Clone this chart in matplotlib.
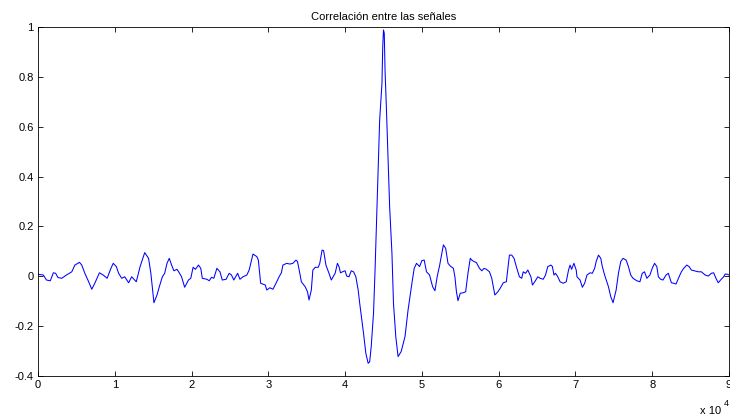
import numpy as np
import matplotlib
matplotlib.use("Agg")
import matplotlib.pyplot as plt

# lag in units of 1e4 samples, normalized correlation value
lag_e4 = [
    0.00, 0.07, 0.11, 0.16, 0.20, 0.23, 0.26, 0.31, 0.37, 0.44, 0.48, 0.54, 0.57, 0.61,
    0.66, 0.70, 0.74, 0.80, 0.85, 0.90, 0.95, 0.98, 1.02, 1.05, 1.09, 1.13, 1.18, 1.22,
    1.28, 1.33, 1.39, 1.44, 1.47, 1.51, 1.55, 1.58, 1.62, 1.65, 1.68, 1.71, 1.74, 1.77,
    1.81, 1.84, 1.87, 1.91, 1.96, 1.99, 2.02, 2.05, 2.09, 2.12, 2.14, 2.20, 2.23, 2.26,
    2.29, 2.33, 2.37, 2.40, 2.45, 2.49, 2.52, 2.55, 2.60, 2.63, 2.67, 2.72, 2.75, 2.80,
    2.85, 2.87, 2.90, 2.96, 2.98, 3.02, 3.06, 3.10, 3.14, 3.17, 3.19, 3.24, 3.28, 3.32,
    3.36, 3.38, 3.41, 3.43, 3.48, 3.51, 3.53, 3.56, 3.58, 3.61, 3.65, 3.67, 3.70, 3.72,
    3.75, 3.79, 3.82, 3.87, 3.90, 3.92, 3.94, 3.98, 4.00, 4.02, 4.05, 4.08, 4.11, 4.14,
    4.17, 4.19, 4.24, 4.27, 4.30, 4.32, 4.34, 4.37, 4.39, 4.41, 4.43, 4.45, 4.48, 4.49,
    4.50, 4.51, 4.52, 4.54, 4.56, 4.58, 4.61, 4.63, 4.66, 4.69, 4.73, 4.78, 4.82, 4.87,
    4.90, 4.93, 4.97, 5.00, 5.03, 5.06, 5.10, 5.14, 5.17, 5.20, 5.23, 5.26, 5.28, 5.31,
    5.34, 5.37, 5.41, 5.43, 5.45, 5.47, 5.50, 5.54, 5.57, 5.60, 5.63, 5.65, 5.68, 5.71,
    5.75, 5.78, 5.81, 5.84, 5.88, 5.91, 5.95, 5.99, 6.02, 6.06, 6.10, 6.14, 6.17, 6.20,
    6.23, 6.27, 6.30, 6.32, 6.35, 6.38, 6.42, 6.44, 6.47, 6.51, 6.54, 6.58, 6.61, 6.64,
    6.68, 6.70, 6.72, 6.74, 6.77, 6.80, 6.84, 6.88, 6.91, 6.93, 6.95, 6.98, 7.01, 7.02,
    7.06, 7.09, 7.12, 7.15, 7.19, 7.22, 7.25, 7.27, 7.30, 7.33, 7.35, 7.38, 7.43, 7.46,
    7.49, 7.53, 7.56, 7.59, 7.62, 7.66, 7.69, 7.72, 7.75, 7.80, 7.84, 7.87, 7.90, 7.93,
    7.97, 8.00, 8.03, 8.06, 8.08, 8.11, 8.14, 8.18, 8.21, 8.23, 8.25, 8.28, 8.31, 8.35,
    8.38, 8.41, 8.45, 8.48, 8.51, 8.55, 8.60, 8.64, 8.69, 8.73, 8.77, 8.80, 8.83, 8.86,
    8.89, 8.93, 8.95, 8.98, 9.00,
]
corr = [
    0.008, 0.005, -0.015, -0.018, 0.014, 0.012, -0.005, -0.008, 0.005, 0.018, 0.045, 0.056, 0.045, 0.012,
    -0.022, -0.052, -0.028, 0.014, 0.005, -0.008, 0.032, 0.052, 0.039, 0.012, -0.008, -0.002, -0.026, -0.002,
    -0.022, 0.039, 0.095, 0.072, 0.012, -0.106, -0.075, -0.042, -0.002, 0.012, 0.052, 0.072, 0.045, 0.022,
    0.028, 0.014, -0.002, -0.044, -0.015, -0.008, 0.036, 0.028, 0.045, 0.032, -0.008, -0.012, -0.018, -0.004,
    -0.008, 0.032, 0.018, -0.015, -0.012, 0.012, 0.005, -0.015, 0.012, -0.012, -0.002, 0.005, 0.025, 0.089,
    0.079, 0.065, -0.028, -0.035, -0.055, -0.046, -0.052, -0.028, -0.002, 0.014, 0.045, 0.052, 0.049, 0.052,
    0.065, 0.059, 0.012, -0.022, -0.042, -0.062, -0.095, -0.055, 0.025, 0.036, 0.036, 0.052, 0.105, 0.103,
    0.045, 0.012, -0.015, 0.012, 0.052, 0.039, 0.014, 0.020, 0.022, 0.001, -0.002, 0.022, 0.018, -0.002,
    -0.055, -0.108, -0.229, -0.309, -0.349, -0.343, -0.282, -0.148, 0.025, 0.226, 0.426, 0.627, 0.774, 0.921,
    0.988, 0.975, 0.828, 0.654, 0.467, 0.279, 0.092, -0.108, -0.242, -0.322, -0.302, -0.242, -0.135, -0.028,
    0.032, 0.052, 0.039, 0.063, 0.065, 0.018, 0.005, -0.042, -0.058, 0.000, 0.042, 0.092, 0.126, 0.112,
    0.052, 0.041, 0.032, -0.002, -0.062, -0.098, -0.068, -0.066, -0.062, 0.012, 0.072, 0.065, 0.059, 0.055,
    0.032, 0.022, 0.032, 0.028, 0.018, -0.008, -0.075, -0.062, -0.048, -0.026, -0.022, 0.085, 0.085, 0.072,
    0.039, -0.002, -0.008, 0.018, 0.012, 0.025, -0.002, -0.035, -0.022, -0.002, -0.008, -0.012, 0.005, 0.039,
    0.045, 0.039, 0.005, 0.012, -0.002, -0.022, -0.028, -0.022, 0.025, 0.045, 0.028, 0.052, 0.025, -0.002,
    -0.015, -0.044, -0.028, 0.005, 0.014, 0.012, 0.032, 0.059, 0.085, 0.072, 0.039, 0.005, -0.042, -0.082,
    -0.106, -0.055, 0.012, 0.059, 0.072, 0.065, 0.039, 0.005, -0.008, -0.018, -0.022, 0.012, 0.018, -0.008,
    0.005, 0.032, 0.052, 0.039, -0.002, -0.012, -0.015, 0.005, 0.012, -0.008, -0.026, -0.028, -0.031, -0.002,
    0.018, 0.032, 0.045, 0.039, 0.025, 0.022, 0.018, 0.018, 0.005, 0.001, 0.012, 0.014, -0.008, -0.026,
    -0.015, -0.002, 0.009, 0.008, 0.005,
]
x_ticks = list(range(10))
y_ticks = [-0.4, -0.2, 0, 0.2, 0.4, 0.6, 0.8, 1]
y_labels = ["-0.4", "-0.2", "0", "0.2", "0.4", "0.6", "0.8", "1"]

plt.rcParams['font.family'] = ['Liberation Sans', 'DejaVu Sans']

fig = plt.figure(figsize=(7.3, 4.19), dpi=100)
ax = fig.add_axes([38 / 730, 43 / 419, 691 / 730, 349 / 419])

ax.plot(lag_e4, corr, color=(0, 0, 1), lw=0.75)

ax.set_xlim(0, 9)
ax.set_ylim(-0.4, 1)
ax.set_xticks(x_ticks)
ax.set_xticklabels([str(t) for t in x_ticks])
ax.set_yticks(y_ticks)
ax.set_yticklabels(y_labels)
ax.tick_params(direction='in', top=True, right=True, length=3.5, width=0.6,
               labelsize=8, pad=3)
for s in ax.spines.values():
    s.set_linewidth(0.6)

ax.set_title("Correlación entre las señales", fontsize=8, pad=5)

# exponent label MATLAB-style (cut at the right edge like the original)
fig.text(700 / 730, 5 / 419, "x 10", fontsize=8, va='baseline')
fig.text(724 / 730, 13 / 419, "4", fontsize=6.5, va='baseline')

fig.savefig("out.png", dpi=100)
